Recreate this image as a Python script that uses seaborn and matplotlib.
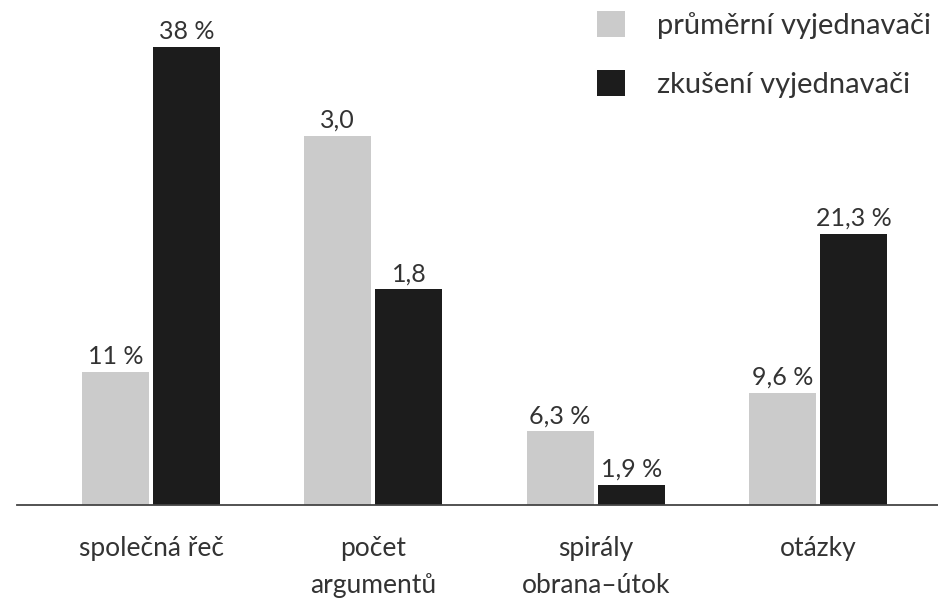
import pandas as pd
import matplotlib
matplotlib.use("Agg")
import matplotlib.pyplot as plt
from matplotlib.patches import Patch
import seaborn as sns

# data
kategorie = ["společná řeč", "počet\nargumentů", "spirály\nobrana–útok", "otázky"]
skupiny = ["průměrní vyjednavači", "zkušení vyjednavači"]
# bar heights as drawn (počet argumentů is drawn on its own scale)
vyska_prumerni = [11, 30.6, 6.1, 9.3]
vyska_zkuseni = [38, 17.9, 1.7, 22.5]
popisky_prumerni = ["11 %", "3,0", "6,3 %", "9,6 %"]
popisky_zkuseni = ["38 %", "1,8", "1,9 %", "21,3 %"]
barvy = ["#cbcbcb", "#1c1c1c"]

df = pd.DataFrame({
    "kategorie": kategorie * 2,
    "skupina": [skupiny[0]] * 4 + [skupiny[1]] * 4,
    "vyska": vyska_prumerni + vyska_zkuseni,
})

sns.set_style("white")
plt.rcParams["font.family"] = ["Lato", "DejaVu Sans"]
text_color = "#333333"

fig = plt.figure(figsize=(9.38, 5.99), dpi=100)
ax = fig.add_axes([17 / 938, 94 / 599, 1 - 17 / 938, 505 / 599])

sns.barplot(data=df, x="kategorie", y="vyska", hue="skupina", palette=barvy,
            saturation=1, width=0.64, gap=0.06, linewidth=0, ax=ax, legend=False)

for cont, labels in zip(ax.containers, [popisky_prumerni, popisky_zkuseni]):
    ax.bar_label(cont, labels=labels, padding=3, fontsize=18, color=text_color)

ax.set_xlim(-0.603, 3.54)
ax.set_ylim(0, 41.9)
ax.set_xlabel("")
ax.set_ylabel("")
ax.set_yticks([])
for s in ["top", "left", "right"]:
    ax.spines[s].set_visible(False)
ax.spines["bottom"].set_color("#444444")
ax.spines["bottom"].set_linewidth(1.3)
ax.tick_params(axis="x", length=0, pad=22, labelsize=19, labelcolor=text_color)
for t in ax.get_xticklabels():
    t.set_linespacing(1.6)

handles = [Patch(facecolor=c, edgecolor="none") for c in barvy]
fig.legend(handles, skupiny, loc="upper left", bbox_to_anchor=(597 / 938, 1 - 11 / 599),
           frameon=False, fontsize=21, labelcolor=text_color, handlelength=0.97,
           handleheight=0.97, handletextpad=1.1, labelspacing=1.08, borderpad=0,
           borderaxespad=0)

fig.savefig("out.png", dpi=100)
